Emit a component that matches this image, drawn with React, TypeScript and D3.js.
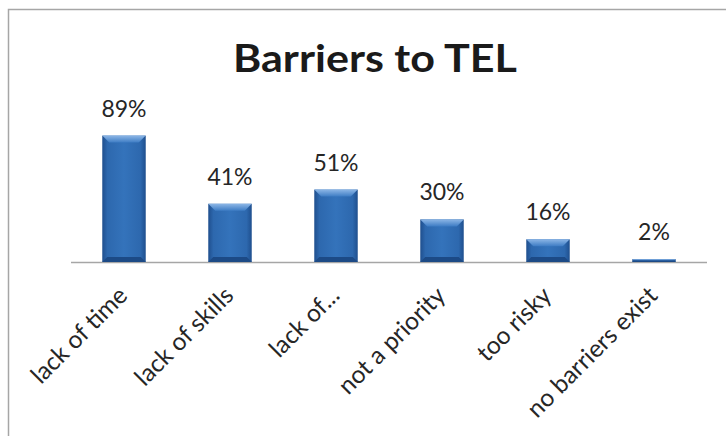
import { useEffect, useRef } from "react";
import * as d3 from "d3";

const categories = ["lack of time", "lack of skills", "lack of...", "not a priority", "too risky", "no barriers exist"];
const values = [89, 41, 51, 30, 16, 2];
const title = "Barriers to TEL";

const WIDTH = 726;
const HEIGHT = 436;
const FONT = "Lato, 'Open Sans', sans-serif";

export default function App() {
  const svgRef = useRef<SVGSVGElement>(null);

  useEffect(() => {
    if (!svgRef.current) return;
    const svg = d3.select(svgRef.current);
    svg.selectAll("*").remove();

    const data = categories.map((c, i) => ({ cat: c, value: values[i] }));

    const x = d3.scaleBand<string>().domain(categories).range([71, 707]).paddingInner(0.59).paddingOuter(0.295);
    const y = d3.scaleLinear().domain([0, 100]).range([262, 120]);

    const defs = svg.append("defs");
    const body = defs.append("linearGradient").attr("id", "barBody").attr("x1", 0).attr("x2", 1).attr("y1", 0).attr("y2", 0);
    body.append("stop").attr("offset", "0%").attr("stop-color", "#1f4f8e");
    body.append("stop").attr("offset", "12%").attr("stop-color", "#2d68ae");
    body.append("stop").attr("offset", "50%").attr("stop-color", "#3473bb");
    body.append("stop").attr("offset", "88%").attr("stop-color", "#2d68ae");
    body.append("stop").attr("offset", "100%").attr("stop-color", "#1f4f8e");

    const top = defs.append("linearGradient").attr("id", "barTop").attr("x1", 0).attr("x2", 0).attr("y1", 0).attr("y2", 1);
    top.append("stop").attr("offset", "0%").attr("stop-color", "#8cb6e6");
    top.append("stop").attr("offset", "100%").attr("stop-color", "#3d7cc4");

    // chart border
    svg.append("rect")
      .attr("x", 8.5).attr("y", 9.5)
      .attr("width", WIDTH).attr("height", HEIGHT)
      .attr("fill", "none").attr("stroke", "#a6a6a6").attr("stroke-width", 1.5);

    svg.append("text")
      .attr("x", 375).attr("y", 72)
      .attr("text-anchor", "middle")
      .attr("font-family", FONT).attr("font-weight", 700).attr("font-size", 38)
      .attr("fill", "#1a1a1a")
      .attr("textLength", 284).attr("lengthAdjust", "spacingAndGlyphs")
      .text(title);

    // baseline
    svg.append("line")
      .attr("x1", 71).attr("x2", 707)
      .attr("y1", y(0) + 0.5).attr("y2", y(0) + 0.5)
      .attr("stroke", "#a6a6a6").attr("stroke-width", 1.5);

    const bw = x.bandwidth();
    const bars = svg.append("g").selectAll("g").data(data).join("g");

    bars.append("rect")
      .attr("x", (d) => x(d.cat)!)
      .attr("y", (d) => y(d.value))
      .attr("width", bw)
      .attr("height", (d) => y(0) - y(d.value))
      .attr("fill", "url(#barBody)");

    // bevel on top edge
    bars.append("path")
      .attr("d", (d) => {
        const x0 = x(d.cat)!;
        const y0 = y(d.value);
        const h = Math.min(7, (y(0) - y0) / 2);
        return `M${x0},${y0}H${x0 + bw}L${x0 + bw - h},${y0 + h}H${x0 + h}Z`;
      })
      .attr("fill", "url(#barTop)");

    // bevel on bottom edge
    bars.append("path")
      .attr("d", (d) => {
        const x0 = x(d.cat)!;
        const y0 = y(0);
        const h = Math.min(5, (y0 - y(d.value)) / 2);
        return `M${x0},${y0}H${x0 + bw}L${x0 + bw - h},${y0 - h}H${x0 + h}Z`;
      })
      .attr("fill", "#1c4a86");

    svg.append("g").selectAll("text").data(data).join("text")
      .attr("x", (d) => x(d.cat)! + bw / 2)
      .attr("y", (d) => y(d.value) - 19)
      .attr("text-anchor", "middle")
      .attr("font-family", FONT).attr("font-size", 23)
      .attr("fill", "#262626")
      .text((d) => `${d.value}%`);

    svg.append("g").selectAll("text").data(categories).join("text")
      .attr("transform", (c) => `translate(${x(c)! + bw / 2 + 5},${297}) rotate(-45)`)
      .attr("text-anchor", "end")
      .attr("font-family", FONT).attr("font-size", 24.5)
      .attr("fill", "#262626")
      .text((c) => c);
  }, []);

  return (
    <svg
      ref={svgRef}
      width={WIDTH}
      height={HEIGHT}
      style={{ position: "absolute", left: 0, top: 0, background: "#fff" }}
    />
  );
}
